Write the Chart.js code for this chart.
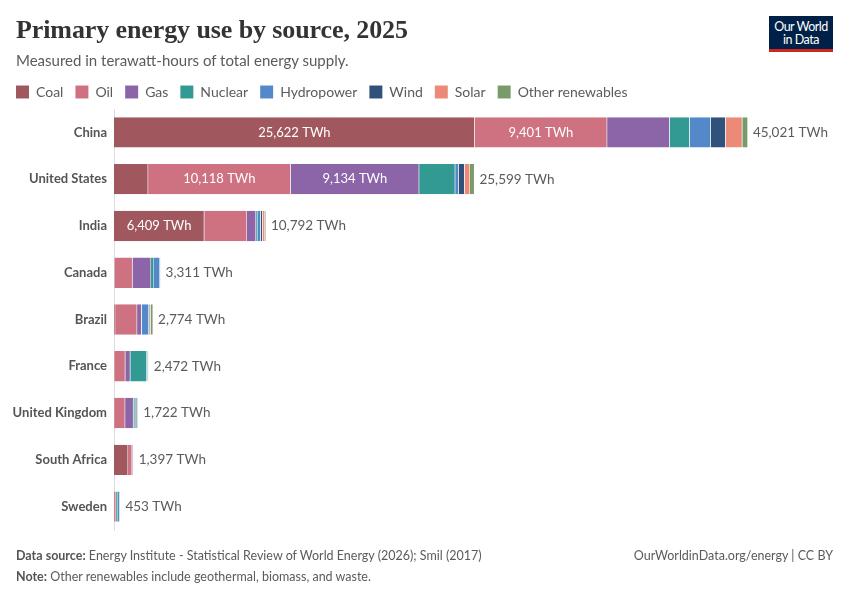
<!DOCTYPE html>
<html>
<head>
<meta charset="utf-8">
<script src="https://cdn.jsdelivr.net/npm/chart.js@4.4.1/dist/chart.umd.min.js"></script>
<style>
  html, body { margin: 0; padding: 0; background: #fff; }
  #wrap { position: relative; width: 850px; height: 600px; font-family: Lato, "Noto Sans", sans-serif; }
  #energyChart { position: absolute; left: 0; top: 0; }
  .title { position: absolute; left: 16px; top: 15px; font-family: "Liberation Serif", "DejaVu Serif", serif; font-weight: bold; font-size: 26px; color: #333; letter-spacing: -0.1px; }
  .subtitle { position: absolute; left: 16px; top: 51px; font-size: 15px; color: #5b5b5b; }
  .logo { position: absolute; left: 769px; top: 16px; width: 64px; height: 36px; background: #002147; border-bottom: 3px solid #ce261e;
          color: #fff; font-size: 12.5px; line-height: 13px; text-align: center; padding-top: 4px; box-sizing: border-box; letter-spacing: -0.5px; }
  .foot { position: absolute; font-size: 12.5px; color: #5b5b5b; }
  .foot b { font-weight: 700; color: #555; }
</style>
</head>
<body>
<div id="wrap">
  <canvas id="energyChart" width="850" height="600"></canvas>
  <div class="title">Primary energy use by source, 2025</div>
  <div class="subtitle">Measured in terawatt-hours of total energy supply.</div>
  <div class="logo">Our World<br>in Data</div>
  <div class="foot" style="left:16px; top:548px;"><b>Data source:</b> Energy Institute - Statistical Review of World Energy (2026); Smil (2017)</div>
  <div class="foot" style="right:17px; top:548px;">OurWorldinData.org/energy | CC BY</div>
  <div class="foot" style="left:16px; top:569px;"><b>Note:</b> Other renewables include geothermal, biomass, and waste.</div>
</div>
<script>
// 국가 / 에너지원별 값 (TWh)
const countries = ['China', 'United States', 'India', 'Canada', 'Brazil', 'France', 'United Kingdom', 'South Africa', 'Sweden'];

const coal    = [25622, 2420,  6409, 30,   80,   20,   10,  995, 5];
const oil     = [9401,  10118, 3033, 1280, 1560, 780,  780, 285, 140];
const gas     = [4440,  9134,  640,  1320, 310,  355,  590, 60,  5];
const nuclear = [1420,  2560,  95,   210,  40,   1180, 120, 30,  135];
const hydro   = [1490,  240,   240,  420,  460,  60,   20,  5,   125];
const wind    = [1065,  430,   140,  30,   100,  35,   110, 10,  30];
const solar   = [1185,  380,   165,  8,    60,   20,   30,  10,  5];
const otherRenewables = [398, 317, 70, 13, 164, 22, 62, 2, 8];

const sources = ['Coal', 'Oil', 'Gas', 'Nuclear', 'Hydropower', 'Wind', 'Solar', 'Other renewables'];
const sourceData = [coal, oil, gas, nuclear, hydro, wind, solar, otherRenewables];
const colors = ['#A0585E', '#CE7181', '#8C64A8', '#339A93', '#5389C8', '#2F517A', '#EC8A78', '#789B69'];

const fmt = v => v.toLocaleString('en-US') + ' TWh';

// 막대 안 값 + 오른쪽 합계
const barLabels = {
    id: 'barLabels',
    afterDatasetsDraw(chart) {
        const c = chart.ctx;
        c.save();
        c.font = '13px Lato';
        c.textBaseline = 'middle';
        chart.data.datasets.forEach((ds, i) => {
            const meta = chart.getDatasetMeta(i);
            meta.data.forEach((bar, j) => {
                const w = Math.abs(bar.x - bar.base);
                const txt = fmt(ds.data[j]);
                if (c.measureText(txt).width + 16 < w) {
                    c.fillStyle = '#fff';
                    c.textAlign = 'center';
                    c.fillText(txt, (bar.x + bar.base) / 2, bar.y);
                }
            });
        });
        const xs = chart.scales.x;
        const last = chart.getDatasetMeta(chart.data.datasets.length - 1);
        countries.forEach((name, j) => {
            const total = sourceData.reduce((s, arr) => s + arr[j], 0);
            c.fillStyle = '#5b5b5b';
            c.textAlign = 'left';
            c.font = '13.5px Lato';
            c.fillText(fmt(total), xs.getPixelForValue(total) + 5, last.data[j].y);
        });
        c.restore();
    }
};

const chart = new Chart(document.getElementById('energyChart'), {
    type: 'bar',
    data: {
        labels: countries,
        datasets: sources.map((s, i) => ({
            label: s,
            data: sourceData[i],
            backgroundColor: colors[i],
            borderColor: 'rgba(255,255,255,0.3)',
            borderWidth: {left: 0, right: 0.5, top: 0, bottom: 0},
            borderSkipped: false,
            barPercentage: 0.65,
            categoryPercentage: 1
        }))
    },
    options: {
        responsive: false,
        animation: false,
        indexAxis: 'y',
        layout: { padding: {left: 4, right: 32, top: 73, bottom: 70} },
        plugins: {
            legend: {
                position: 'top',
                align: 'start',
                labels: {
                    boxWidth: 13,
                    boxHeight: 13,
                    padding: 12,
                    color: '#5b5b5b',
                    font: {family: 'Lato', size: 14}
                }
            },
            tooltip: {enabled: false}
        },
        scales: {
            x: {
                stacked: true,
                min: 0,
                max: 50000,
                display: false
            },
            y: {
                stacked: true,
                grid: {display: false, drawTicks: false},
                border: {display: true, color: '#dddddd'},
                afterFit(scale) { scale.width = 110; },
                ticks: {
                    padding: 7,
                    color: '#555',
                    font: {family: 'Lato', size: 13, weight: 'bold'}
                }
            }
        }
    },
    plugins: [barLabels]
});
</script>
</body>
</html>
